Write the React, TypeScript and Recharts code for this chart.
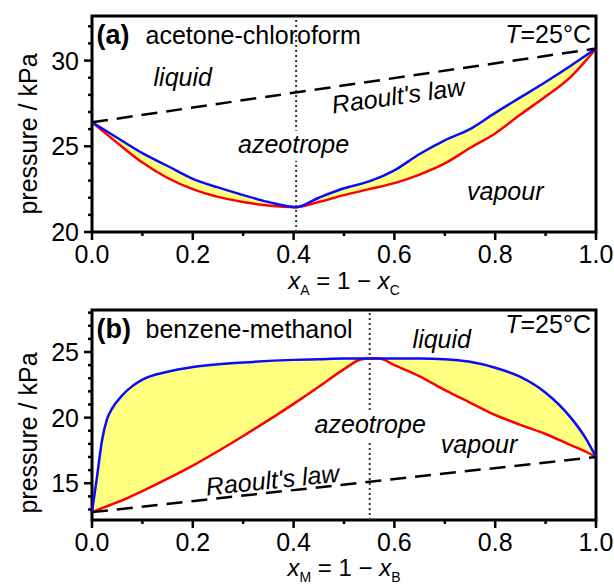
import React from 'react';
import {
  ComposedChart,
  Line,
  Area,
  XAxis,
  YAxis,
  Label,
  ReferenceLine,
  ReferenceDot,
  ReferenceArea,
} from 'recharts';

const FONT = '"Liberation Sans", Arial, Helvetica, sans-serif';
const BLUE = '#0a0aff';
const RED = '#ff0000';
const YELLOW = '#ffff80';

// (a) acetone-chloroform, T = 25 C
const acX = [0, 0.05, 0.1, 0.15, 0.2, 0.25, 0.3, 0.35, 0.405, 0.45, 0.5, 0.55, 0.6, 0.65, 0.7, 0.75, 0.8, 0.85, 0.9, 0.95, 1];
const acLiquid = [26.4, 25.5, 24.6, 23.85, 23.1, 22.6, 22.15, 21.75, 21.45, 22.0, 22.55, 22.95, 23.6, 24.55, 25.35, 26.0, 26.95, 27.85, 28.75, 29.7, 30.7];
const acVapour = [26.4, 25.2, 24.05, 23.15, 22.5, 22.05, 21.75, 21.55, 21.45, 21.75, 22.15, 22.5, 22.85, 23.35, 24.0, 24.9, 25.75, 26.85, 27.9, 29.05, 30.7];
const acRaoult = [26.4, 30.7]; // at x = 0 and x = 1
const acAzeotrope = 0.405;
const acYTicks = [20, 21, 22, 23, 24, 25, 26, 27, 28, 29, 30, 31, 32];

// (b) benzene-methanol, T = 25 C
const bmX = [0, 0.01, 0.02, 0.03, 0.04, 0.06, 0.08, 0.1, 0.15, 0.2, 0.3, 0.4, 0.45, 0.5, 0.535, 0.55, 0.57, 0.6, 0.65, 0.7, 0.75, 0.8, 0.85, 0.9, 0.95, 0.98, 1];
const bmLiquid = [12.8, 15.5, 18.3, 19.9, 20.7, 21.7, 22.4, 22.9, 23.5, 23.85, 24.2, 24.4, 24.45, 24.5, 24.5, 24.5, 24.5, 24.5, 24.5, 24.45, 24.25, 23.8, 23.1, 21.9, 20.0, 18.4, 17.0];
const bmVapour = [12.8, 12.95, 13.1, 13.25, 13.4, 13.7, 14.05, 14.4, 15.35, 16.35, 18.6, 21.05, 22.35, 23.7, 24.45, 24.5, 24.5, 24.0, 23.15, 22.1, 21.15, 20.2, 19.45, 18.75, 17.9, 17.4, 17.0];
const bmRaoult = [12.8, 17.0];
const bmAzeotrope = 0.551;
const bmYTicks = [13, 14, 15, 16, 17, 18, 19, 20, 21, 22, 23, 24, 25, 26, 27, 28];

const X_TICKS = [0, 0.1, 0.2, 0.3, 0.4, 0.5, 0.6, 0.7, 0.8, 0.9, 1];

const YTick = (props: any) => {
  const { x, y, payload } = props;
  const major = payload.value % 5 === 0;
  return (
    <g>
      <line x1={x - (major ? 8 : 4)} x2={x} y1={y} y2={y} stroke="#000" strokeWidth={2.5} />
      {major && (
        <text x={x - 13} y={y + 9} textAnchor="end" fontSize={25} fontFamily={FONT} fill="#000">
          {payload.value}
        </text>
      )}
    </g>
  );
};

const XTick = (props: any) => {
  const { x, y, payload } = props;
  const major = Math.round(payload.value * 10) % 2 === 0;
  return (
    <g>
      <line x1={x} x2={x} y1={y} y2={y + (major ? 8 : 4)} stroke="#000" strokeWidth={2.5} />
      {major && (
        <text x={x} y={y + 31} textAnchor="middle" fontSize={25} fontFamily={FONT} fill="#000">
          {payload.value.toFixed(1)}
        </text>
      )}
    </g>
  );
};

const note = (text: string, opts: any = {}) => (p: any) => {
  const { anchor = 'middle', italic = true, angle = 0, bg = false } = opts;
  return (
    <g>
      {bg && <rect x={p.cx - 58} y={p.cy - 22} width={116} height={30} fill="#fff" />}
      <text
        x={p.cx}
        y={p.cy}
        textAnchor={anchor}
        fontSize={25}
        fontFamily={FONT}
        fontStyle={italic ? 'italic' : 'normal'}
        fill="#000"
        transform={angle ? `rotate(${angle}, ${p.cx}, ${p.cy})` : undefined}
      >
        {text}
      </text>
    </g>
  );
};

const heading = (tag: string, name: string) => (p: any) => (
  <text x={p.cx} y={p.cy} fontSize={25} fontFamily={FONT} fill="#000">
    <tspan fontWeight="bold" fontSize={27}>{tag}</tspan>
    <tspan x={p.cx + 49}>{name}</tspan>
  </text>
);

const temperature = (p: any) => (
  <text x={p.cx} y={p.cy} textAnchor="end" fontSize={25} fontFamily={FONT} fill="#000">
    <tspan fontStyle="italic">T</tspan>=25°C
  </text>
);

const xTitle = (sub1: string, sub2: string, dy: number) => (p: any) => {
  const vb = p.viewBox;
  return (
    <text x={vb.x + vb.width / 2} y={vb.y + dy} textAnchor="middle" fontSize={24} fontFamily={FONT} fill="#000">
      <tspan fontStyle="italic">x</tspan>
      <tspan fontSize={14} dy={6}>{sub1}</tspan>
      <tspan dy={-6}> = 1 − </tspan>
      <tspan fontStyle="italic">x</tspan>
      <tspan fontSize={14} dy={6}>{sub2}</tspan>
    </text>
  );
};

const yTitle = (shift: number) => (p: any) => {
  const vb = p.viewBox;
  const cx = 28;
  const cy = vb.y + vb.height / 2 + shift;
  return (
    <text
      x={cx}
      y={cy}
      textAnchor="middle"
      dominantBaseline="central"
      fontSize={25}
      fontFamily={FONT}
      fill="#000"
      transform={`rotate(-90, ${cx}, ${cy})`}
    >
      pressure / kPa
    </text>
  );
};

const table = (xs: number[], liquid: number[], vapour: number[]) =>
  xs.map((x, i) => ({ x, liquid: liquid[i], vapour: vapour[i] }));

const acData = table(acX, acLiquid, acVapour);
const bmData = table(bmX, bmLiquid, bmVapour);

const gap = () => (
  <Area
    type="monotone"
    dataKey={(d: any) => [d.vapour, d.liquid]}
    fill={YELLOW}
    fillOpacity={1}
    stroke="none"
    isAnimationActive={false}
    activeDot={false}
  />
);

export default function App() {
  return (
    <div style={{ position: 'absolute', left: 0, top: 0, width: 614, height: 588, background: '#fff' }}>
      <div style={{ position: 'absolute', left: 0, top: 0 }}>
        <ComposedChart width={614} height={300} data={acData} margin={{ top: 16, right: 18, bottom: 0, left: 0 }}>
          <XAxis
            dataKey="x"
            type="number"
            domain={[0, 1]}
            ticks={X_TICKS}
            interval={0}
            tick={<XTick />}
            tickLine={false}
            tickSize={0}
            tickMargin={0}
            axisLine={false}
            height={68}
          >
            <Label content={xTitle('A', 'C', 57)} />
          </XAxis>
          <YAxis
            type="number"
            domain={[20, 32.6]}
            allowDataOverflow
            ticks={acYTicks}
            interval={0}
            tick={<YTick />}
            tickLine={false}
            tickSize={0}
            tickMargin={0}
            axisLine={false}
            width={92}
          >
            <Label content={yTitle(10)} />
          </YAxis>
          {gap()}
          <Line type="monotone" dataKey="vapour" stroke={RED} strokeWidth={2.5} dot={false} isAnimationActive={false} />
          <Line type="monotone" dataKey="liquid" stroke={BLUE} strokeWidth={2.5} dot={false} isAnimationActive={false} />
          <ReferenceLine
            segment={[{ x: 0, y: acRaoult[0] }, { x: 1, y: acRaoult[1] }]}
            stroke="#000"
            strokeWidth={2.5}
            strokeDasharray="16 9"
          />
          <ReferenceLine x={acAzeotrope} stroke="#333" strokeWidth={2} strokeDasharray="2 3" />
          <ReferenceDot x={0.009} y={30.94} r={1} shape={heading('(a)', 'acetone-chloroform')} />
          <ReferenceDot x={0.99} y={31.05} r={1} shape={temperature} />
          <ReferenceDot x={0.18} y={28.54} r={1} shape={note('liquid')} />
          <ReferenceDot x={0.4} y={24.62} r={1} shape={note('azeotrope', { bg: true })} />
          <ReferenceDot x={0.82} y={21.87} r={1} shape={note('vapour')} />
          <ReferenceDot x={0.61} y={27.45} r={1} shape={note("Raoult's law", { angle: -8 })} />
          <ReferenceArea x1={0} x2={1} y1={20} y2={32.6} fill="none" stroke="#000" strokeWidth={3} />
        </ComposedChart>
      </div>
      <div style={{ position: 'absolute', left: 0, top: 290 }}>
        <ComposedChart width={614} height={298} data={bmData} margin={{ top: 20, right: 18, bottom: 0, left: 0 }}>
          <XAxis
            dataKey="x"
            type="number"
            domain={[0, 1]}
            ticks={X_TICKS}
            interval={0}
            tick={<XTick />}
            tickLine={false}
            tickSize={0}
            tickMargin={0}
            axisLine={false}
            height={68}
          >
            <Label content={xTitle('M', 'B', 56)} />
          </XAxis>
          <YAxis
            type="number"
            domain={[12.2, 28.2]}
            allowDataOverflow
            ticks={bmYTicks}
            interval={0}
            tick={<YTick />}
            tickLine={false}
            tickSize={0}
            tickMargin={0}
            axisLine={false}
            width={92}
          >
            <Label content={yTitle(18)} />
          </YAxis>
          {gap()}
          <Line type="monotone" dataKey="vapour" stroke={RED} strokeWidth={2.5} dot={false} isAnimationActive={false} />
          <Line type="monotone" dataKey="liquid" stroke={BLUE} strokeWidth={2.5} dot={false} isAnimationActive={false} />
          <ReferenceLine
            segment={[{ x: 0, y: bmRaoult[0] }, { x: 1, y: bmRaoult[1] }]}
            stroke="#000"
            strokeWidth={2.5}
            strokeDasharray="16 9"
          />
          <ReferenceLine x={bmAzeotrope} stroke="#333" strokeWidth={2} strokeDasharray="2 3" />
          <ReferenceDot x={0.009} y={26.07} r={1} shape={heading('(b)', 'benzene-methanol')} />
          <ReferenceDot x={0.99} y={26.45} r={1} shape={temperature} />
          <ReferenceDot x={0.694} y={25.3} r={1} shape={note('liquid')} />
          <ReferenceDot x={0.552} y={18.8} r={1} shape={note('azeotrope', { bg: true })} />
          <ReferenceDot x={0.768} y={17.3} r={1} shape={note('vapour')} />
          <ReferenceDot x={0.36} y={14.6} r={1} shape={note("Raoult's law", { angle: -6 })} />
          <ReferenceArea x1={0} x2={1} y1={12.2} y2={28.2} fill="none" stroke="#000" strokeWidth={3} />
        </ComposedChart>
      </div>
    </div>
  );
}
